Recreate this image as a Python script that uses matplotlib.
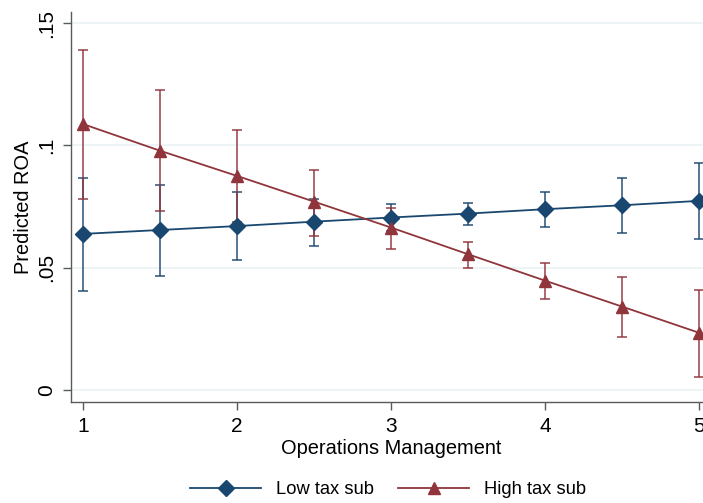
import matplotlib
matplotlib.use('Agg')
import matplotlib.pyplot as plt
from matplotlib.lines import Line2D

plt.rcParams['font.family'] = ['Liberation Sans', 'DejaVu Sans']

# margins over operations management
ops = [1, 1.5, 2, 2.5, 3, 3.5, 4, 4.5, 5]

low_fit = [0.0638, 0.0654, 0.0670, 0.0688, 0.0705, 0.0721, 0.0739, 0.0755, 0.0773]
low_hi = [0.0867, 0.0838, 0.0810, 0.0781, 0.0762, 0.0766, 0.0810, 0.0867, 0.0929]
low_lo = [0.0405, 0.0467, 0.0531, 0.0590, 0.0648, 0.0676, 0.0668, 0.0643, 0.0616]

high_fit = [0.1087, 0.0978, 0.0875, 0.0770, 0.0664, 0.0555, 0.0447, 0.0341, 0.0234]
high_hi = [0.1390, 0.1227, 0.1062, 0.0899, 0.0743, 0.0605, 0.0520, 0.0463, 0.0410]
high_lo = [0.0781, 0.0733, 0.0688, 0.0631, 0.0576, 0.0500, 0.0371, 0.0217, 0.0054]

yticks = [0, 0.05, 0.1, 0.15]
ytick_labels = ['0', '.05', '.1', '.15']
xticks = [1, 2, 3, 4, 5]

navy = '#1a476f'
maroon = '#90353b'

fig = plt.figure(figsize=(7.03, 5.03), dpi=100)
ax = fig.add_axes([71 / 703, 101 / 503, 640 / 703, 390 / 503])

# confidence intervals first
for fit, lo, hi, c in [(low_fit, low_lo, low_hi, navy), (high_fit, high_lo, high_hi, maroon)]:
    err = [[f - l for f, l in zip(fit, lo)], [h - f for f, h in zip(fit, hi)]]
    ax.errorbar(ops, fit, yerr=err, fmt='none', ecolor=c, elinewidth=1.3,
                capsize=3.4, capthick=1.3, alpha=0.8, zorder=2)

ax.plot(ops, low_fit, color=navy, lw=1.3, marker='D', ms=8, zorder=3)
ax.plot(ops, high_fit, color=maroon, lw=1.3, marker='^', ms=9, zorder=3)

ax.set_xlim(1 - 12 / 154, 5 + 12 / 154)
ax.set_ylim(-12 / 2446, 0.15 + 11 / 2446)
ax.set_xticks(xticks)
ax.set_yticks(yticks)
ax.set_yticklabels(ytick_labels, rotation=90, va='center')
ax.tick_params(labelsize=15, length=6, width=1, color='#5a5a5a', pad=5)
ax.grid(axis='y', color='#eaf2f3', lw=1.2)
ax.set_axisbelow(True)

for s in ['top', 'right']:
    ax.spines[s].set_visible(False)
for s in ['left', 'bottom']:
    ax.spines[s].set_color('#5a5a5a')
    ax.spines[s].set_linewidth(1)

ax.set_xlabel('Operations Management', fontsize=14.4, labelpad=2)
ax.set_ylabel('Predicted ROA', fontsize=14.4, labelpad=3)

handles = [
    Line2D([], [], color=navy, lw=1.3, marker='D', ms=8),
    Line2D([], [], color=maroon, lw=1.3, marker='^', ms=9),
]
fig.legend(handles, ['Low tax sub', 'High tax sub'], loc='center',
           bbox_to_anchor=(0.552, 0.027), ncol=2, frameon=False, fontsize=13.2,
           handlelength=3.9, columnspacing=1.3, handletextpad=0.8)

fig.savefig('out.png', dpi=100)
